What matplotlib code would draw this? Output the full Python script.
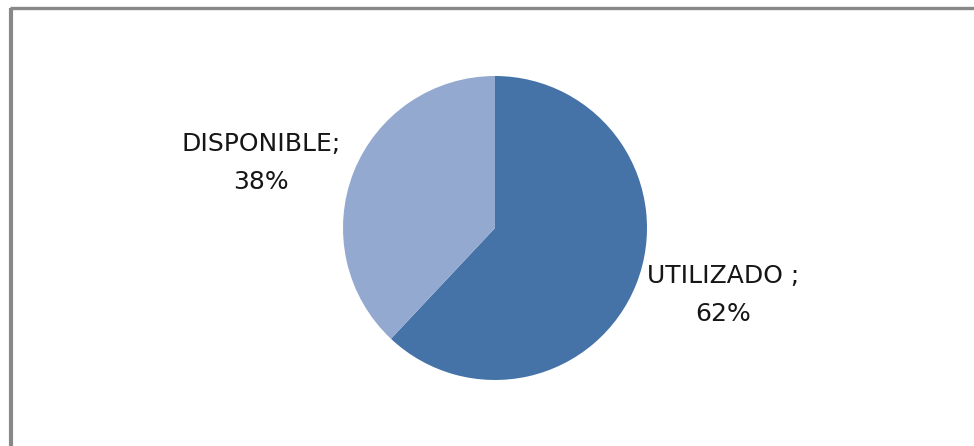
import matplotlib.pyplot as plt

# share of capacity
labels = ['UTILIZADO ', 'DISPONIBLE']
values = [62, 38]
colors = ['#4673A7', '#94A9CF']

W, H = 974, 446
fig = plt.figure(figsize=(W / 100, H / 100), dpi=100)
ax = fig.add_axes([0, 0, 1, 1])

# grey frame, only top and left edges fall inside the image
ax.plot([11, 11], [0, H - 8], color='#888888', lw=3, solid_capstyle='butt')
ax.plot([9.5, W], [H - 8.3, H - 8.3], color='#888888', lw=2.4, solid_capstyle='butt')

ax.pie(values, colors=colors, startangle=90, counterclock=False,
       center=(495, H - 228), radius=152, frame=True,
       wedgeprops=dict(linewidth=0))
ax.set_xlim(0, W)
ax.set_ylim(0, H)
ax.set_aspect('auto')
ax.axis('off')

lab_pos = [(723, H - 295), (261, H - 163)]
for name, v, (x, y) in zip(labels, values, lab_pos):
    ax.text(x, y, '%s;\n%d%%' % (name, v), ha='center', va='center',
            fontsize=18, family='DejaVu Sans', linespacing=1.72,
            color='#161616')

fig.savefig('out.png', dpi=100)
